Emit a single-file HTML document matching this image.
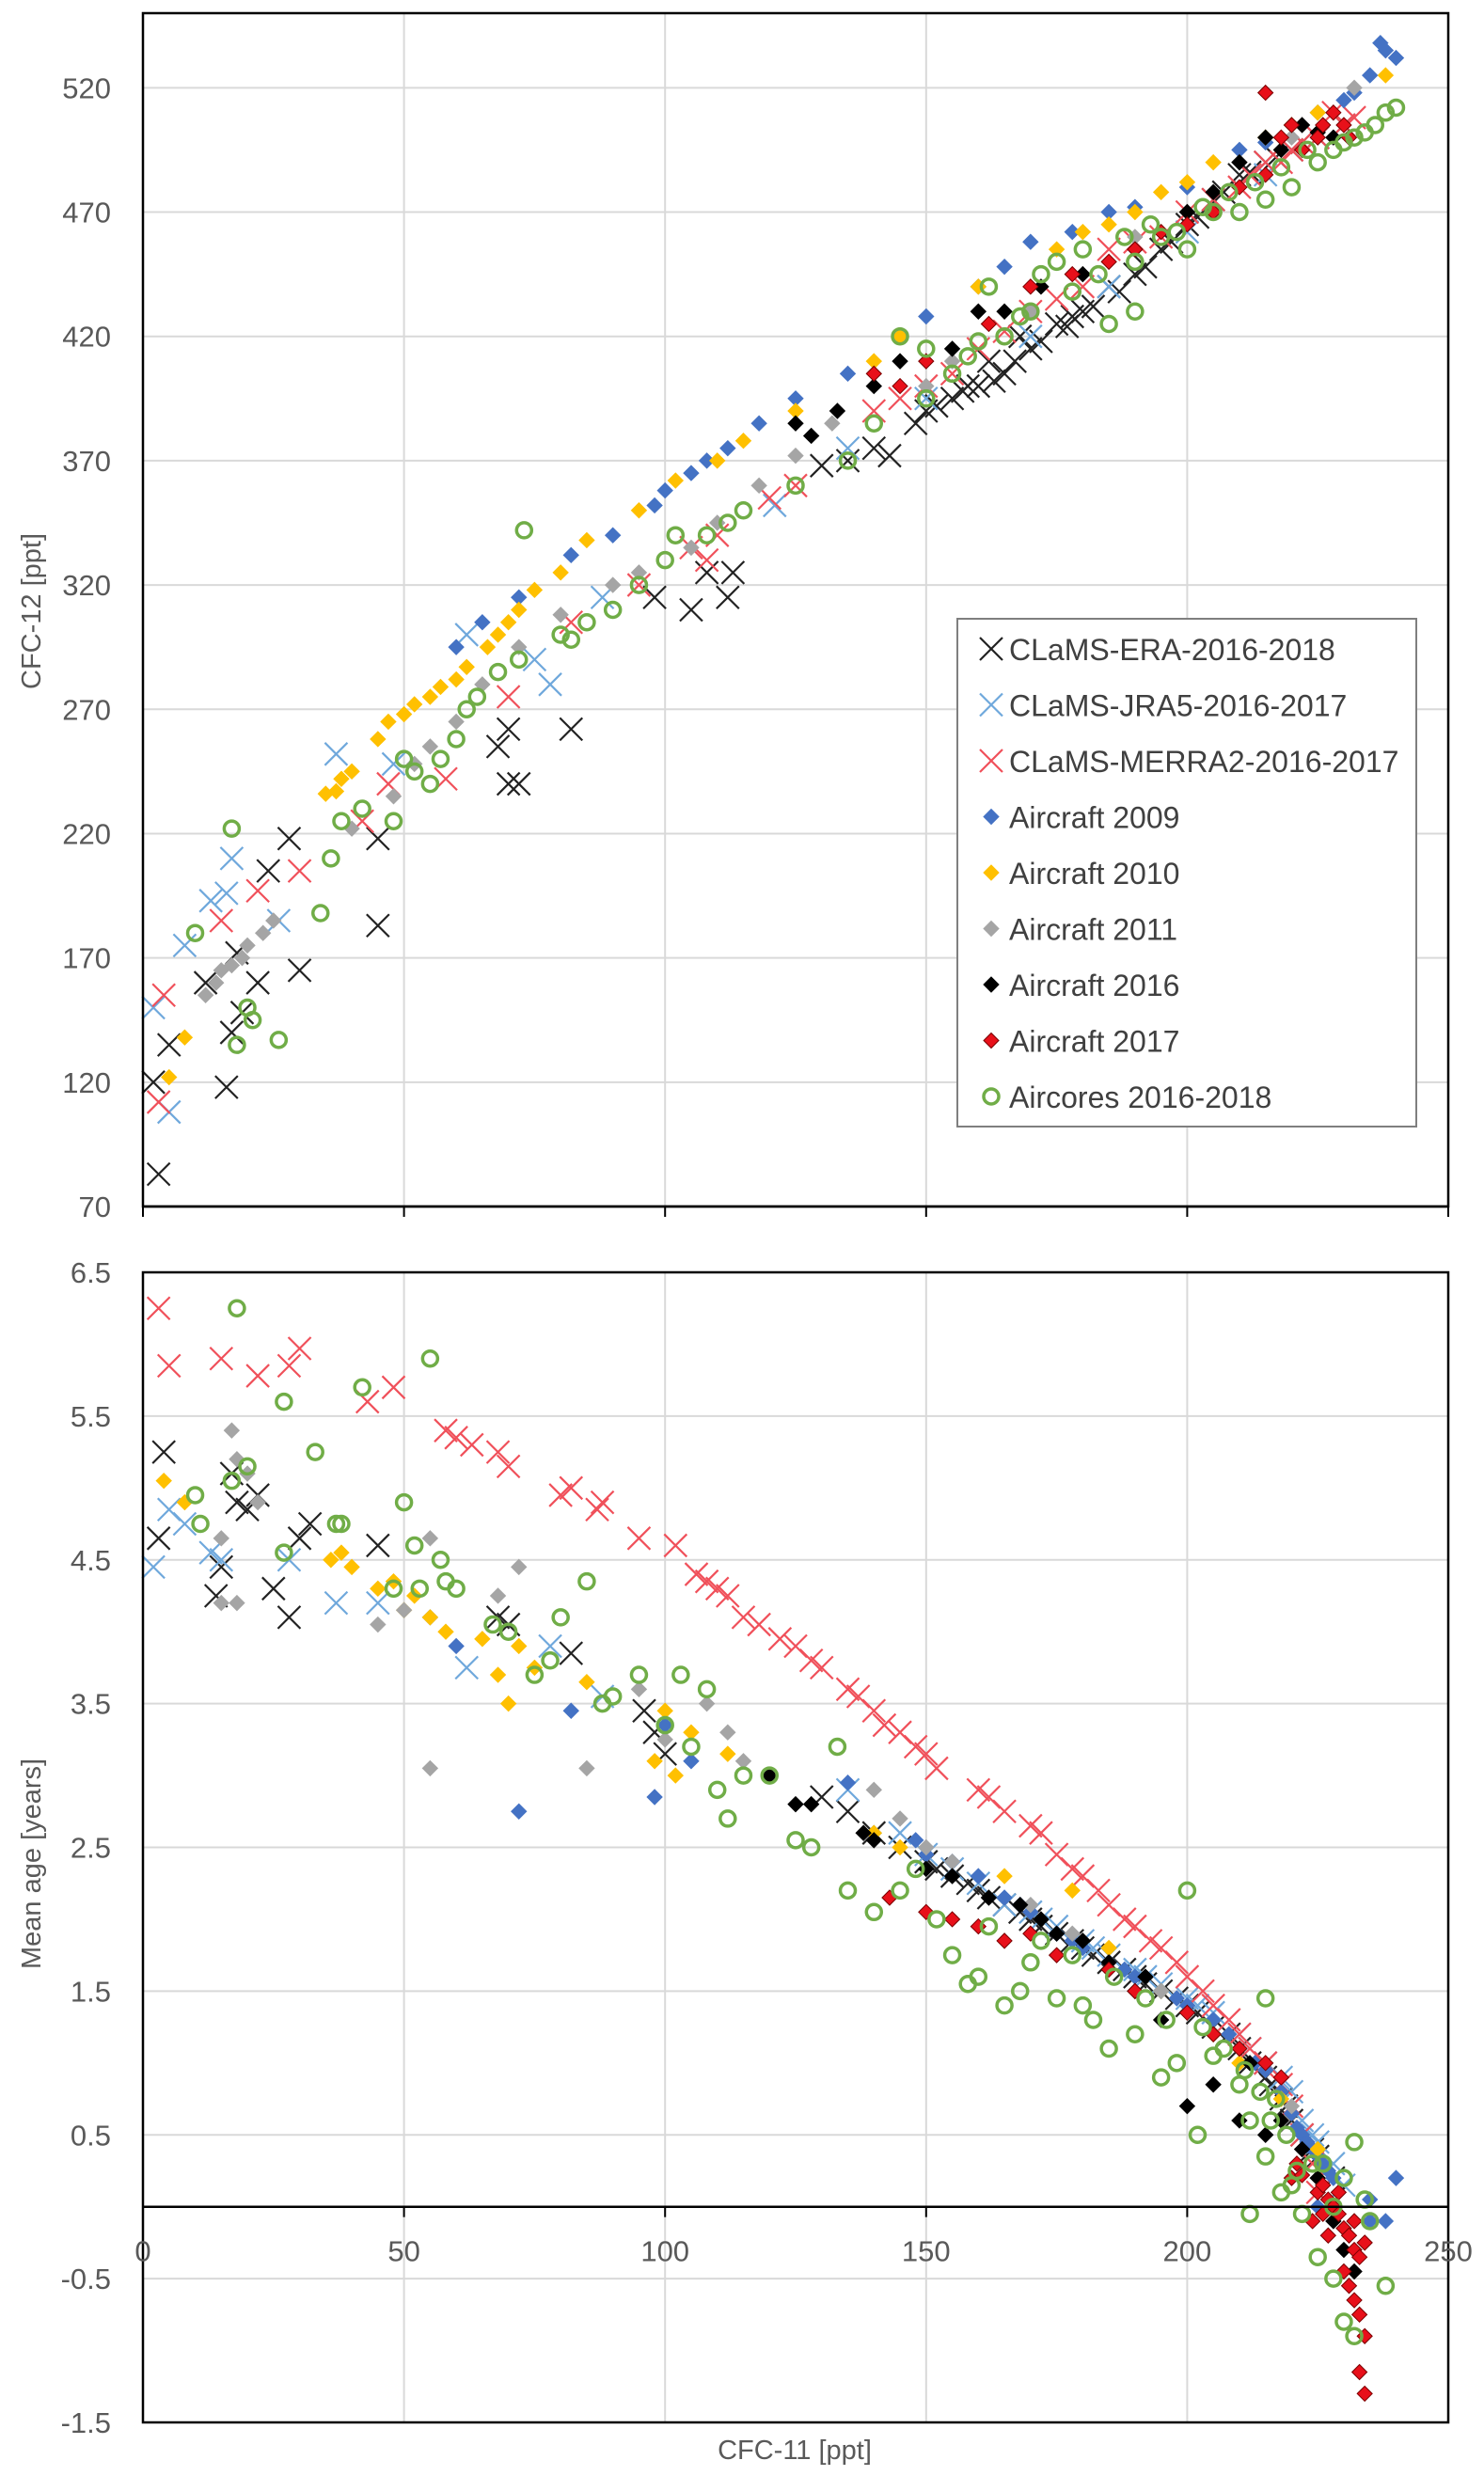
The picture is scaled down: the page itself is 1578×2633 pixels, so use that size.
<!DOCTYPE html>
<html><head><meta charset="utf-8"><style>
html,body{margin:0;padding:0;background:#fff}
svg{display:block;font-family:"Liberation Sans",sans-serif}
</style></head><body>
<svg id="c" width="1578" height="2633" viewBox="0 0 1578 2633" xmlns="http://www.w3.org/2000/svg">
<g id="topPanel"></g>
<g id="botPanel"></g>
<g id="legPanel"></g>
</svg>
<script>
const NS="http://www.w3.org/2000/svg";
const seriesNames=["CLaMS-ERA-2016-2018","CLaMS-JRA5-2016-2017","CLaMS-MERRA2-2016-2017","Aircraft 2009","Aircraft 2010","Aircraft 2011","Aircraft 2016","Aircraft 2017","Aircores 2016-2018"];
const topYTicks=[70,120,170,220,270,320,370,420,470,520];
const botYTicks=[-1.5,-0.5,0.5,1.5,2.5,3.5,4.5,5.5,6.5];
const xTicks=[0,50,100,150,200,250];
// Top panel: [CFC-11, CFC-12]
const topEra=[[3,83],[2,120],[5,135],[16,118],[17,140],[19,148],[12,160],[22,160],[18,172],[30,165],[24,205],[28,218],[45,183],[45,218],[70,240],[72,240],[68,255],[70,262],[82,262],[98,315],[105,310],[112,315],[108,325],[113,325],[140,375],[143,372],[148,385],[155,395],[160,400],[165,405],[170,415],[175,425],[180,430],[185,440],[190,445],[195,455],[200,465],[205,475],[210,485],[215,490],[220,495],[225,500],[230,505],[135,370],[130,368],[150,390],[158,400],[162,410],[168,420],[178,428],[152,392],[157,398],[163,402],[167,410],[172,418],[177,424],[182,432],[187,438],[192,448],[197,458],[202,468],[207,478],[212,486],[217,492],[222,498]];
const topJra=[[2,150],[5,108],[8,175],[13,193],[16,196],[17,210],[26,185],[37,252],[48,248],[62,300],[78,280],[75,290],[88,315],[121,352],[135,375],[150,395],[170,420],[185,440],[200,462],[215,485],[225,500]];
const topMerra=[[3,112],[4,155],[15,185],[22,197],[30,205],[42,225],[47,240],[58,242],[70,275],[82,305],[95,320],[105,335],[108,330],[110,340],[120,355],[125,360],[140,390],[150,400],[160,415],[170,430],[180,440],[185,455],[195,460],[200,470],[205,475],[210,480],[215,490],[220,495],[225,500],[230,505],[228,510],[218,490],[145,395],[155,405],[165,422],[175,435],[190,458],[212,485],[222,498],[232,508]];
const topA09=[[60,295],[65,305],[72,315],[82,332],[90,340],[98,352],[100,358],[105,365],[108,370],[112,375],[118,385],[125,395],[135,405],[145,420],[150,428],[160,440],[165,448],[170,458],[178,462],[185,470],[190,472],[200,480],[210,495],[220,505],[230,515],[235,525],[238,535],[240,532],[237,538],[215,498],[225,510],[232,518]];
const topA10=[[5,122],[8,138],[35,236],[37,237],[38,242],[40,245],[45,258],[47,265],[50,268],[52,272],[55,275],[57,279],[60,282],[62,287],[66,295],[68,300],[70,305],[72,310],[75,318],[80,325],[85,338],[95,350],[102,362],[110,370],[115,378],[125,390],[140,410],[145,420],[160,440],[175,455],[180,462],[190,470],[195,478],[205,490],[215,500],[225,510],[238,525],[185,465],[200,482],[220,505]];
const topA11=[[12,155],[14,160],[15,165],[17,167],[19,170],[20,175],[23,180],[25,185],[40,222],[48,235],[52,248],[55,255],[60,265],[65,280],[72,295],[80,308],[90,320],[95,325],[105,335],[110,345],[118,360],[125,372],[132,385],[150,400],[155,410],[170,430],[190,460],[210,490],[232,520],[180,445],[200,470],[220,500]];
const topA16=[[125,385],[128,380],[133,390],[140,400],[145,410],[155,415],[160,430],[165,430],[172,440],[180,445],[190,455],[200,470],[210,490],[215,500],[222,505],[228,500],[205,478],[218,495],[225,502]];
const topA17=[[140,405],[145,400],[150,410],[162,425],[170,440],[178,445],[190,455],[200,465],[205,470],[210,480],[215,485],[218,500],[220,505],[225,500],[228,510],[230,505],[215,518],[222,495],[185,450],[195,462],[226,505],[231,500]];
const topCores=[[10,180],[17,222],[18,135],[20,150],[21,145],[26,137],[34,188],[36,210],[38,225],[42,230],[48,225],[50,250],[52,245],[55,240],[57,250],[60,258],[62,270],[64,275],[68,285],[72,290],[73,342],[80,300],[82,298],[85,305],[90,310],[95,320],[100,330],[102,340],[108,340],[112,345],[115,350],[125,360],[135,370],[140,385],[150,395],[155,405],[158,412],[165,420],[170,430],[175,450],[180,455],[183,445],[190,450],[195,460],[200,455],[205,470],[210,470],[215,475],[220,480],[225,490],[228,495],[232,500],[236,505],[238,510],[240,512],[190,430],[185,425],[150,415],[145,420],[162,440],[172,445],[178,438],[188,460],[193,465],[198,462],[203,472],[208,478],[213,482],[218,488],[223,495],[230,498],[234,502],[168,428],[160,418]];
// Bottom panel: [CFC-11, mean age]
const botEra=[[3,4.65],[4,5.25],[14,4.25],[15,4.45],[17,5.1],[18,4.9],[20,4.85],[22,4.95],[25,4.3],[28,4.1],[30,4.65],[32,4.75],[45,4.6],[68,4.1],[70,4.05],[82,3.85],[96,3.45],[98,3.3],[100,3.15],[130,2.85],[135,2.75],[140,2.6],[145,2.5],[150,2.4],[155,2.3],[160,2.2],[165,2.1],[170,2.0],[175,1.9],[180,1.8],[185,1.7],[190,1.6],[195,1.5],[200,1.4],[205,1.25],[210,1.1],[215,0.9],[218,0.75],[220,0.6],[222,0.5],[225,0.35],[228,0.2],[152,2.35],[158,2.25],[162,2.15],[168,2.05],[172,1.95],[178,1.85],[182,1.75],[188,1.65],[192,1.55],[198,1.45],[202,1.35],[208,1.2],[212,1.0],[216,0.85],[219,0.7],[224,0.4]];
const botJra=[[2,4.45],[5,4.85],[8,4.75],[13,4.55],[15,4.5],[28,4.5],[37,4.2],[45,4.2],[62,3.75],[78,3.9],[88,3.55],[135,2.9],[145,2.6],[150,2.45],[155,2.35],[160,2.25],[165,2.1],[170,2.05],[175,1.95],[180,1.85],[185,1.75],[190,1.65],[195,1.55],[200,1.45],[205,1.35],[210,1.2],[215,1.0],[220,0.8],[222,0.6],[225,0.45],[228,0.3],[230,0.15],[172,2.0],[182,1.8],[192,1.6],[202,1.4],[212,1.1],[218,0.9],[224,0.5]];
const botMerra=[[3,6.25],[5,5.85],[15,5.9],[22,5.78],[28,5.85],[30,5.97],[43,5.6],[48,5.7],[58,5.4],[60,5.35],[63,5.3],[68,5.25],[70,5.15],[80,4.95],[82,5.0],[87,4.85],[88,4.9],[95,4.65],[102,4.6],[106,4.4],[108,4.35],[110,4.3],[112,4.25],[115,4.1],[118,4.05],[122,3.95],[125,3.9],[128,3.8],[130,3.75],[135,3.6],[137,3.55],[140,3.45],[142,3.35],[145,3.3],[148,3.2],[150,3.15],[152,3.05],[160,2.9],[162,2.85],[165,2.75],[170,2.65],[172,2.6],[175,2.45],[178,2.35],[180,2.3],[183,2.2],[185,2.1],[188,2.0],[190,1.95],[193,1.85],[195,1.8],[198,1.7],[200,1.6],[203,1.5],[205,1.4],[208,1.3],[210,1.2],[212,1.1],[215,1.0],[218,0.85],[220,0.7],[222,0.5],[224,0.3],[225,0.1]];
const botA09=[[55,4.1],[60,3.9],[72,2.75],[82,3.45],[98,2.85],[100,3.35],[105,3.1],[120,3.0],[135,2.95],[140,2.6],[148,2.55],[150,2.45],[160,2.3],[165,2.15],[170,2.05],[175,1.9],[180,1.8],[185,1.7],[190,1.6],[195,1.5],[200,1.4],[205,1.3],[210,1.1],[215,0.95],[218,0.8],[220,0.65],[222,0.5],[224,0.4],[225,0.35],[226,0.3],[227,0.25],[228,0.2],[240,0.2],[235,0.05],[238,-0.1],[235,-0.1],[225,0.0],[155,2.4],[168,2.1],[178,1.85],[188,1.65],[198,1.45],[208,1.2],[213,1.0],[221,0.55],[223,0.45]];
const botA10=[[4,5.05],[8,4.9],[36,4.5],[38,4.55],[40,4.45],[45,4.3],[48,4.35],[50,4.15],[52,4.25],[55,4.1],[58,4.0],[65,3.95],[68,3.7],[70,3.5],[72,3.9],[75,3.75],[85,3.65],[98,3.1],[100,3.45],[102,3.0],[105,3.3],[112,3.15],[140,2.6],[145,2.5],[165,2.3],[178,2.2],[185,1.8],[195,1.5],[205,1.2],[210,1.0],[218,0.75],[225,0.4]];
const botA11=[[15,4.65],[17,5.4],[18,5.2],[20,5.1],[22,4.9],[15,4.2],[18,4.2],[45,4.05],[50,4.15],[55,3.05],[55,4.65],[68,4.25],[72,4.45],[85,3.05],[95,3.6],[100,3.25],[108,3.5],[112,3.3],[115,3.1],[140,2.9],[145,2.7],[150,2.5],[155,2.4],[170,2.1],[178,1.9],[185,1.7],[195,1.5],[210,1.1],[220,0.7]];
const botA16=[[120,3.0],[125,2.8],[128,2.8],[138,2.6],[140,2.55],[150,2.35],[155,2.3],[162,2.15],[168,2.1],[175,1.9],[180,1.85],[185,1.7],[190,1.5],[195,1.3],[200,0.7],[205,0.85],[210,0.6],[215,0.5],[222,0.4],[225,0.2],[230,-0.3],[232,-0.45],[228,-0.1],[172,2.0],[192,1.6],[212,1.0],[218,0.6]];
const botA17=[[143,2.15],[150,2.05],[155,2.0],[160,1.95],[165,1.85],[170,1.9],[175,1.75],[185,1.65],[190,1.5],[200,1.35],[205,1.2],[210,1.1],[215,1.0],[218,0.9],[220,0.2],[222,0.22],[225,0.1],[227,0.05],[228,0.0],[229,-0.05],[230,-0.15],[231,-0.2],[232,-0.3],[233,-0.35],[234,-0.25],[230,-0.45],[231,-0.55],[232,-0.65],[233,-0.75],[234,-0.9],[233,-1.15],[234,-1.3],[224,-0.1],[227,-0.2],[221,0.3],[226,0.15],[229,0.1],[226,-0.05],[232,-0.1]];
const botCores=[[10,4.95],[11,4.75],[18,6.25],[17,5.05],[20,5.15],[27,5.6],[27,4.55],[33,5.25],[37,4.75],[38,4.75],[42,5.7],[48,4.3],[50,4.9],[52,4.6],[53,4.3],[55,5.9],[57,4.5],[58,4.35],[60,4.3],[67,4.05],[70,4.0],[75,3.7],[78,3.8],[80,4.1],[85,4.35],[88,3.5],[90,3.55],[95,3.7],[100,3.35],[103,3.7],[105,3.2],[108,3.6],[110,2.9],[112,2.7],[115,3.0],[120,3.0],[125,2.55],[128,2.5],[133,3.2],[135,2.2],[140,2.05],[145,2.2],[148,2.35],[152,2.0],[155,1.75],[158,1.55],[160,1.6],[162,1.95],[165,1.4],[168,1.5],[170,1.7],[175,1.45],[180,1.4],[182,1.3],[185,1.1],[190,1.2],[195,0.9],[198,1.0],[200,2.2],[202,0.5],[205,1.05],[210,0.85],[212,0.6],[215,0.35],[216,0.6],[217,0.75],[218,0.1],[220,0.15],[222,-0.05],[226,0.3],[228,0.0],[230,0.2],[232,0.45],[234,0.05],[235,-0.1],[228,-0.5],[230,-0.8],[232,-0.9],[238,-0.55],[225,-0.35],[215,1.45],[212,-0.05],[224,0.3],[172,1.85],[178,1.75],[186,1.6],[192,1.45],[196,1.3],[203,1.25],[207,1.1],[211,0.95],[214,0.8],[219,0.5],[221,0.25]];

const styles=[
 {t:"x",c:"#222222"},{t:"x",c:"#6fa8dc"},{t:"x",c:"#f0505a"},
 {t:"d",c:"#4472c4"},{t:"d",c:"#ffc000"},{t:"d",c:"#a5a5a5"},
 {t:"d",c:"#000000"},{t:"d",c:"#e8101a",s:"#7a0000"},{t:"o",c:"#70ad47"}];

const X0=152,X1=1540;
function sx(v){return X0+(v-0)/(250-0)*(X1-X0);}
const T0=14,T1=1283;
function tyTop(v){return T1-(v-70)/(550-70)*(T1-T0);}
const B0=1353,B1=2576;
function tyBot(v){return B1-(v+1.5)/(8)*(B1-B0);}

function el(tag,attrs,parent){const e=document.createElementNS(NS,tag);for(const k in attrs)e.setAttribute(k,attrs[k]);parent.appendChild(e);return e;}

function marker(g,st,x,y){
  let m;
  if(st.t==="x"){
    const r=12;
    m=el("path",{d:`M${x-r},${y-r}L${x+r},${y+r}M${x-r},${y+r}L${x+r},${y-r}`,stroke:st.c,"stroke-width":2.2,fill:"none"},g);
  }else if(st.t==="d"){
    const r=8;
    m=el("path",{d:`M${x},${y-r}L${x+r},${y}L${x},${y+r}L${x-r},${y}Z`,fill:st.c,stroke:st.s||st.c,"stroke-width":1},g);
  }else{
    m=el("circle",{cx:x,cy:y,r:8,fill:"none",stroke:st.c,"stroke-width":3.5},g);
  }
  return m;
}

function panel(g,ty,ticks,fmt,axisY,pTop,pBottom,data){
  for(const t of xTicks){ if(t===0)continue;
    const l=el("line",{x1:sx(t),x2:sx(t),y1:pTop,y2:pBottom,stroke:"#d9d9d9","stroke-width":2},g);
    
    
  }
  for(const t of ticks){
    const y=ty(t);
    if(y>pTop+2&&y<pBottom-2){
      const l=el("line",{x1:X0,x2:X1,y1:y,y2:y,stroke:"#d9d9d9","stroke-width":2},g);
      
      
    }
    const tx=el("text",{x:118,y:y+11,"text-anchor":"end","font-size":31,fill:"#595959"},g);
    tx.textContent=fmt(t);
    
    
  }
  data.forEach((ser,i)=>{
    const sg=el("g",{},g);
    
    
    for(const p of ser){
      const m=marker(sg,styles[i],sx(p[0]),ty(p[1]));
      
      
    }
  });
  const r=el("rect",{x:X0,y:pTop,width:X1-X0,height:pBottom-pTop,fill:"none",stroke:"#000","stroke-width":2.5},g);
  
  
  const ax=el("line",{x1:X0,x2:X1,y1:axisY,y2:axisY,stroke:"#000","stroke-width":2.5},g);
  
  
  for(const t of xTicks){
    const tk=el("line",{x1:sx(t),x2:sx(t),y1:axisY,y2:axisY+11,stroke:"#000","stroke-width":2},g);
    
    
  }
}

const topG=document.getElementById("topPanel");
panel(topG,tyTop,topYTicks,v=>String(v),T1,T0,T1,[topEra,topJra,topMerra,topA09,topA10,topA11,topA16,topA17,topCores]);
const botG=document.getElementById("botPanel");
panel(botG,tyBot,botYTicks,v=>String(v),tyBot(0),B0,B1,[botEra,botJra,botMerra,botA09,botA10,botA11,botA16,botA17,botCores]);
for(const t of xTicks){
  const tx=el("text",{x:sx(t),y:tyBot(0)+58,"text-anchor":"middle","font-size":31,fill:"#595959"},botG);
  tx.textContent=String(t);
  
  
}
let tt=el("text",{x:0,y:0,"font-size":29,fill:"#595959","text-anchor":"middle",transform:"translate(43,650) rotate(-90)"},topG);
tt.textContent="CFC-12 [ppt]";


tt=el("text",{x:0,y:0,"font-size":29,fill:"#595959","text-anchor":"middle",transform:"translate(43,1982) rotate(-90)"},botG);
tt.textContent="Mean age [years]";


tt=el("text",{x:845,y:2615,"font-size":29,fill:"#595959","text-anchor":"middle"},botG);
tt.textContent="CFC-11 [ppt]";



const legG=document.getElementById("legPanel");
const lb=el("rect",{x:1018,y:658,width:488,height:540,fill:"#fff",stroke:"#7f7f7f","stroke-width":2},legG);


seriesNames.forEach((n,i)=>{
  const cy=690+i*59.5;
  const eg=el("g",{},legG);
  
  
  const m=marker(eg,styles[i],1054,cy);
  
  
  const t=el("text",{x:1073,y:cy+12,"font-size":32,fill:"#404040"},eg);
  t.textContent=n;
  
  
});
</script>
</body></html>
